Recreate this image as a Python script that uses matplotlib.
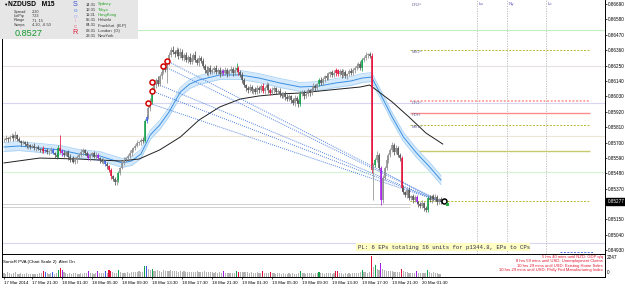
import numpy as np
import matplotlib
matplotlib.use("Agg")
import matplotlib.pyplot as plt
from matplotlib.patches import Rectangle

plt.rcParams['font.family'] = ['Liberation Sans', 'DejaVu Sans']

# ---- data: NZDUSD M15, prices in points above 0.85000 ----
close_pts = [
    718, 732, 725, 739, 747, 732, 754, 725, 711, 697,
    704, 689, 675, 682, 668, 675, 661, 668, 654, 647,
    654, 640, 647, 632, 640, 647, 625, 611, 596, 661,
    640, 625, 611, 632, 596, 575, 589, 561, 575, 596,
    611, 632, 647, 625, 604, 589, 611, 625, 596, 611,
    589, 575, 561, 568, 546, 532, 503, 461, 439, 418,
    432, 482, 518, 554, 575, 589, 604, 625, 647, 661,
    675, 697, 704, 718, 711, 854, 882, 947, 990, 1076,
    1111, 1147, 1118, 1176, 1204, 1233, 1219, 1269, 1326, 1362,
    1347, 1333, 1362, 1319, 1347, 1304, 1326, 1290, 1311, 1276,
    1304, 1326, 1290, 1269, 1304, 1283, 1247, 1219, 1197, 1233,
    1204, 1219, 1233, 1204, 1219, 1190, 1211, 1197, 1219, 1190,
    1211, 1226, 1197, 1219, 1233, 1204, 1183, 1147, 1111, 1090,
    1076, 1097, 1068, 1083, 1061, 1090, 1076, 1104, 1068, 1090,
    1111, 1076, 1054, 1076, 1090, 1061, 1068, 1047, 1033, 1054,
    1025, 1011, 1033, 1004, 983, 1018, 997, 975, 1047, 1061,
    1033, 1047, 1076, 1054, 1083, 1104, 1090, 1118, 1147, 1126,
    1154, 1176, 1161, 1190, 1204, 1183, 1197, 1219, 1190, 1211,
    1183, 1204, 1176, 1190, 1211, 1197, 1219, 1233, 1247, 1261,
    1233, 1290, 1304, 1326, 1333, 1319, 503, 539, 575, 611,
    518, 289, 446, 518, 575, 611, 647, 682, 632, 661,
    611, 589, 375, 346, 325, 361, 303, 318, 289, 311,
    275, 261, 246, 268, 232, 218, 303, 289, 318, 296,
    311, 275, 296, 277,
]
wick_hi = [
    14, 21, 7, 14, 21, 14, 28, 7, 14, 7,
    14, 7, 21, 14, 7, 14, 21, 7, 14, 7,
    14, 21, 7, 14, 7, 21, 14, 7, 14, 21,
    93, 14, 21, 7, 14, 21, 7, 14, 21, 14,
    14, 21, 14, 7, 14, 21, 14, 7, 14, 21,
    14, 7, 14, 21, 7, 14, 7, 14, 7, 14,
    14, 14, 7, 14, 21, 7, 14, 21, 14, 7,
    14, 21, 7, 14, 21, 14, 14, 21, 28, 21,
    21, 14, 28, 14, 21, 14, 21, 14, 21, 21,
    28, 14, 21, 14, 28, 21, 14, 21, 14, 28,
    21, 14, 28, 14, 21, 14, 21, 14, 28, 14,
    21, 14, 14, 21, 14, 21, 14, 14, 21, 14,
    14, 21, 14, 21, 35, 14, 14, 21, 14, 7,
    14, 21, 14, 7, 14, 21, 14, 14, 21, 14,
    21, 14, 14, 21, 14, 7, 14, 21, 14, 7,
    14, 21, 14, 7, 14, 21, 14, 14, 21, 14,
    14, 21, 14, 7, 14, 21, 14, 7, 14, 21,
    14, 7, 21, 14, 7, 14, 21, 14, 7, 14,
    14, 21, 14, 7, 14, 21, 14, 14, 21, 14,
    21, 14, 14, 21, 7, 14, 21, 14, 14, 28,
    14, 14, 21, 14, 21, 14, 14, 22, 14, 21,
    14, 14, 14, 21, 7, 14, 21, 7, 14, 14,
    14, 7, 14, 21, 7, 14, 14, 21, 7, 14,
    21, 14, 7, 14,
]
wick_lo = [
    14, 7, 21, 14, 7, 21, 14, 14, 7, 21,
    7, 14, 14, 21, 14, 7, 14, 21, 7, 14,
    21, 14, 7, 14, 21, 14, 7, 21, 14, 7,
    14, 21, 14, 7, 21, 14, 14, 7, 14, 21,
    7, 14, 21, 14, 7, 14, 21, 14, 7, 14,
    14, 21, 7, 14, 14, 21, 14, 21, 14, 21,
    21, 14, 14, 7, 14, 14, 7, 14, 21, 14,
    14, 7, 14, 21, 14, 7, 14, 14, 21, 14,
    14, 21, 14, 14, 21, 14, 14, 93, 14, 14,
    14, 21, 14, 21, 14, 14, 21, 14, 21, 14,
    14, 21, 14, 14, 21, 14, 14, 21, 14, 21,
    14, 14, 21, 14, 14, 21, 14, 14, 14, 21,
    14, 14, 21, 14, 14, 21, 14, 21, 14, 21,
    21, 14, 14, 21, 14, 14, 21, 14, 14, 21,
    14, 21, 14, 14, 21, 14, 14, 21, 14, 14,
    21, 14, 14, 21, 14, 21, 14, 21, 14, 14,
    21, 14, 14, 21, 14, 14, 21, 14, 14, 14,
    14, 21, 14, 14, 21, 14, 14, 21, 14, 14,
    21, 14, 14, 21, 14, 14, 14, 21, 14, 14,
    14, 21, 14, 14, 21, 14, 21, 214, 14, 14,
    14, 36, 21, 14, 14, 21, 14, 14, 21, 14,
    14, 21, 21, 14, 14, 21, 14, 14, 21, 14,
    14, 21, 14, 14, 21, 15, 14, 14, 21, 14,
    14, 21, 14, 14,
]
volume = [
    420, 380, 510, 460, 350, 400, 520, 380, 330, 410,
    360, 300, 420, 380, 310, 350, 290, 330, 380, 420,
    450, 620, 580, 400, 360, 430, 560, 380, 420, 720,
    980, 760, 520, 450, 380, 420, 360, 480, 400, 350,
    380, 420, 350, 460, 390, 640, 480, 420, 380, 450,
    610, 440, 390, 420, 660, 480, 720, 650, 520, 460,
    480, 780, 520, 460, 420, 480, 520, 460, 500, 560,
    520, 580, 620, 560, 600, 1250, 1180, 880, 760, 820,
    680, 620, 740, 650, 580, 720, 640, 700, 680, 750,
    660, 620, 700, 580, 640, 560, 620, 540, 600, 520,
    560, 500, 580, 620, 540, 500, 560, 640, 580, 520,
    500, 540, 480, 520, 460, 500, 480, 620, 480, 440,
    460, 420, 480, 440, 640, 600, 520, 560, 600, 540,
    500, 460, 520, 480, 440, 500, 460, 420, 620, 480,
    440, 400, 600, 460, 420, 380, 440, 400, 360, 420,
    380, 340, 400, 360, 420, 380, 340, 420, 660, 460,
    400, 380, 420, 460, 400, 380, 440, 420, 560, 440,
    400, 380, 420, 440, 400, 380, 460, 640, 700, 460,
    420, 380, 400, 360, 420, 380, 400, 440, 420, 460,
    500, 720, 560, 520, 480, 560, 2247, 1080, 1260, 820,
    760, 1560, 920, 760, 700, 640, 680, 620, 560, 600,
    540, 500, 880, 620, 560, 500, 460, 420, 440, 400,
    640, 460, 420, 440, 400, 480, 720, 560, 480, 520,
    460, 420, 380, 340,
]
# PVA colour of notable bars (r climax bear, g climax bull, b/m rising volume)
pva_marks = {21: 'r', 22: 'b', 26: 'b', 29: 'g', 30: 'r', 31: 'm', 45: 'm', 50: 'm',
             54: 'b', 56: 'r', 57: 'r', 61: 'g', 75: 'g', 76: 'b', 79: 'g', 117: 'm',
             124: 'g', 125: 'r', 138: 'r', 142: 'r', 158: 'g', 168: 'g', 177: 'r',
             178: 'r', 191: 'g', 196: 'r', 198: 'g', 201: 'm', 212: 'r', 220: 'm', 226: 'g'}

# moving averages, read at sample bars (points)
fast_ma_bars = [0, 8, 19, 30, 40, 51, 58, 63, 68, 73, 78, 83, 88, 94, 99, 104, 115,
                126, 136, 147, 158, 168, 177, 185, 191, 196, 201, 207, 213, 220, 227, 233]
fast_ma_pts = [668, 675, 661, 647, 618, 604, 575, 554, 568, 618, 754, 825, 918, 1061,
               1118, 1147, 1183, 1183, 1161, 1126, 1097, 1104, 1126, 1140, 1161, 1168,
               1040, 882, 740, 625, 525, 432]
slow_ma_bars = [0, 19, 40, 51, 62, 72, 83, 94, 104, 115, 126, 136, 147, 158, 174, 190,
                195, 200, 207, 216, 225, 234]
slow_ma_pts = [554, 589, 582, 575, 568, 582, 647, 739, 861, 954, 1011, 1033, 1047, 1054,
               1076, 1097, 1111, 1061, 990, 882, 768, 689]

# entries (bar, price) of the open positions
entry_bars = [77, 79, 79, 85, 87]
entry_prices = [0.85983, 0.86068, 0.86133, 0.86247, 0.86283]

# horizontal levels
bg_level_prices = [0.86505, 0.86247, 0.85986, 0.85747, 0.85489, 0.84982]
bg_level_colors = ['#bff0bf', '#e8e2e2', '#d6d6f2', '#eee6d8', '#d6f4d6', '#d6d6f2']
pivot_labels = ['MR2^', 'DR1^', 'PDH', 'MR1^', '-', '']
pivot_prices = [0.86362, 0.85997, 0.85911, 0.85825, 0.85639, 0.85282]
pivot_styles = [('#b8b830', (0, (2, 1.5)), 0.7), ('#ff9a9a', (0, (1, 1)), 1.3),
                ('#ff8c8c', '-', 1.0), ('#b8b830', (0, (2, 1.5)), 0.7),
                ('#c8c870', '-', 1.0), ('#b8b830', (0, (2, 1.5)), 0.7)]
bid_lines = [0.85260, 0.85239]
current_price = 0.85277

session_bars = [252, 268, 289]
session_labels = ['Lo', 'Ny', 'Lc']

time_bars = [0, 15, 31, 47, 63, 79, 95, 111, 127, 143, 159, 175, 191, 207, 223]
time_labels = ['17 Mar 2014', '17 Mar 21:30', '18 Mar 01:30', '18 Mar 05:30', '18 Mar 09:30',
               '18 Mar 13:30', '18 Mar 17:30', '18 Mar 21:30', '19 Mar 01:30', '19 Mar 05:30',
               '19 Mar 09:30', '19 Mar 13:30', '19 Mar 17:30', '19 Mar 21:30', '20 Mar 01:30']
# price scale labels (the 0.85260 one is hidden behind the current-price box)
price_ticks = [0.8669, 0.8658, 0.8647, 0.8636, 0.8625, 0.8614, 0.8603, 0.8592, 0.8581,
               0.8570, 0.8559, 0.8548, 0.8537, 0.8515, 0.8504, 0.8493]

events = ['5 hrs 40 mins until NZD: GDP q/q',
          '8 hrs 59 mins until USD: Unemployment Claims',
          '10 hrs 29 mins until USD: Existing Home Sales',
          '10 hrs 29 mins until USD: Philly Fed Manufacturing Index']
sessions = [('14:31', 'Sydney'), ('12:31', 'Tokyo'), ('11:31', 'HongKong'), ('05:31', 'Helsinki'),
            ('04:31', 'Frankfurt  (B.P)'), ('03:31', 'London  (G)'), ('23:31', 'NewYork')]
info_rows = [('Spread', '2.20'), ('LotPip', '7.23'), ('Range', '71, 15'), ('Swaps', '4.20, -6.50')]

# ---- figure ----
W, H = 625, 288
fig = plt.figure(figsize=(W / 100, H / 100), dpi=100)


def fx(xp):
    return xp / W


def fy(yp):
    return 1 - yp / H


XL = (-1.07, 320.5)
ax = fig.add_axes([fx(2), fy(254), fx(605) - fx(2), fy(0) - fy(254)])
axv = fig.add_axes([fx(2), fy(277), fx(605) - fx(2), fy(255) - fy(277)])

x = np.arange(len(close_pts))
c = 0.85 + np.array(close_pts) / 1e5
o = np.r_[c[0], c[:-1]]
hi = np.maximum(o, c) + np.array(wick_hi) / 1e5
lo = np.minimum(o, c) - np.array(wick_lo) / 1e5
palette = {'r': '#e2103a', 'g': '#14a04a', 'b': '#3d5fe6', 'm': '#a41ee6'}
cols = [palette[pva_marks[i]] if i in pva_marks else ('#8e8e8e' if c[i] >= o[i] else '#555555')
        for i in x]
vcols = [palette[pva_marks[i]] if i in pva_marks else '#b4b4b4' for i in x]

# background levels
for p, col in zip(bg_level_prices, bg_level_colors):
    ax.axhline(p, color=col, lw=0.8, zorder=0)
for p in bid_lines:
    ax.hlines(p, XL[0], 216.5, color='#d0d0d0', lw=0.7, zorder=0)
for lab, p, (col, ls, lw) in zip(pivot_labels, pivot_prices, pivot_styles):
    x0 = 221.5 if lab == '-' else 216.5
    ax.hlines(p, x0, 312.5, color=col, linestyle=ls, lw=lw, zorder=1)
    if lab and lab != '-':
        ax.text(217.5, p - 0.00002, lab, fontsize=3.0, color='#6a6a9a', va='top', ha='left')
ax.text(217.5, 0.86700, 'DR2^', fontsize=3.0, color='#6a6a9a', va='top', ha='left')
ax.hlines(0.84917, 296.5, 314.5, color='#4f6fe0', linestyle=(0, (2, 1.5)), lw=0.7)

for b, lab in zip(session_bars, session_labels):
    ax.axvline(b, color='#b8b8b8', linestyle=(0, (1.5, 1.5)), lw=0.6, zorder=0)
    ax.text(b + 1, 0.86690, lab, fontsize=3.2, color='#6655bb', va='center', ha='left')

# moving averages
fb = np.array(fast_ma_bars)
fp = 0.85 + np.array(fast_ma_pts) / 1e5
ax.fill_between(fb, fp - 0.00032, fp + 0.00032, color='#d4e9fb', lw=0, zorder=1)
ax.plot(fb, fp - 0.00032, color='#a9d2f5', lw=0.6, zorder=1)
ax.plot(fb, fp + 0.00032, color='#a9d2f5', lw=0.6, zorder=1)
ax.plot(fb, fp, color='#3a90e4', lw=0.7, zorder=2)
ax.plot(slow_ma_bars, 0.85 + np.array(slow_ma_pts) / 1e5, color='#202020', lw=0.7, zorder=2)

# trade lines
for b, p in zip(entry_bars, entry_prices):
    ax.plot([b, x[-1]], [p, current_price], color='#4d7fe0', linestyle=(0, (1, 1.2)),
            lw=0.7, zorder=2)

# candles
ax.vlines(x, lo, hi, colors=cols, lw=0.55, zorder=3)
body_lo = np.minimum(o, c)
body_hi = np.maximum(o, c) + 0.000015
ax.vlines(x, body_lo, body_hi, colors=cols, lw=1.15, zorder=3)

ax.plot(entry_bars, entry_prices, 'o', ms=3.6, mfc='white', mec='#d40000', mew=1.1, zorder=5)
ax.plot([234.7], [0.85282], 'o', ms=3.6, mfc='white', mec='black', mew=1.1, zorder=5)
ax.plot([236.3], [0.85262], 's', ms=1.3, color='#20b040', zorder=5)

ax.set_xlim(*XL)
ax.set_ylim(0.84903, 0.86719)
ax.yaxis.tick_right()
ax.set_yticks(price_ticks)
ax.set_yticklabels(['%.5f' % p for p in price_ticks])
ax.tick_params(axis='y', labelsize=3.3, length=1.5, width=0.5, pad=0.8)
ax.set_xticks([])
ax.spines['top'].set_visible(False)
for s in ['left', 'right', 'bottom']:
    ax.spines[s].set_linewidth(0.7)
ax.text(1.004, current_price, '%.5f' % current_price, transform=ax.get_yaxis_transform(),
        fontsize=3.3, color='white', va='center', ha='left',
        bbox=dict(boxstyle='square,pad=0.2', fc='black', ec='black'))

# volume panel
axv.bar(x, volume, width=0.6, color=vcols, lw=0)
axv.set_xlim(*XL)
axv.set_ylim(0, 2400)
axv.set_yticks([])
axv.set_xticks(time_bars)
axv.set_xticklabels(time_labels, ha='left')
axv.tick_params(axis='x', labelsize=3.2, length=1.5, width=0.5, pad=1.5)
axv.spines['top'].set_visible(False)
for s in ['left', 'right', 'bottom']:
    axv.spines[s].set_linewidth(0.7)
fig.text(fx(3), fy(262), 'SonicR PVA (Chart Scale 2)  Alert On', fontsize=3.2,
         va='center', ha='left')
fig.text(fx(607), fy(257.5), '2247', fontsize=3.4, va='center', ha='left')
fig.text(fx(607), fy(273), '0', fontsize=3.4, va='center', ha='left')
for k, ev in enumerate(events):
    fig.text(fx(603), fy(257 + 4.4 * k), ev, fontsize=3.0, color='#e5102a',
             va='center', ha='right')

# PL box
fig.add_artist(Rectangle((fx(356), fy(251)), fx(530) - fx(356), fy(243) - fy(251),
                         transform=fig.transFigure, fc='#ffffc4', ec='none', zorder=4))
fig.text(fx(358), fy(247), 'PL: 6 EPs totaling 16 units for p1344.8, EPs to CPs',
         fontsize=4.1, family=['Liberation Mono', 'DejaVu Sans Mono'], color='#2a2a4a',
         va='center', ha='left', zorder=5)

# info panel
fig.add_artist(Rectangle((0, fy(39)), fx(138), fy(0) - fy(39), transform=fig.transFigure,
                         fc='#e6e6e6', ec='none', zorder=4))
fig.text(fx(3), fy(5), '\u25bc', fontsize=3.2, va='center', ha='left', zorder=5)
fig.text(fx(8), fy(5), 'NZDUSD   M15', fontsize=4.8, weight='bold', va='center',
         ha='left', zorder=5)
for k, (lab, val) in enumerate(info_rows):
    yy = 11.7 + 4.4 * k
    fig.text(fx(14), fy(yy), lab, fontsize=2.8, color='#333333', va='center', zorder=5)
    fig.text(fx(32), fy(yy), val, fontsize=2.8, color='#333333', va='center', zorder=5)
fig.text(fx(15), fy(34), '0.8527', fontsize=6.6, color='#169a2e', va='center', zorder=5)
sonic = [('S', '#3350d0', 4.5, 5.2), ('o', '#5c86f0', 10.5, 4.6), ('n', '#b0b0f4', 16, 4.6),
         ('i', '#f4a8c8', 21, 4.6), ('c', '#f06c90', 27, 4.6), ('R', '#e01c3c', 33, 5.2)]
for ch, col, yy, fs in sonic:
    fig.text(fx(75), fy(yy), ch, fontsize=fs, color=col, va='center', ha='center', zorder=5)
for k, (t, name) in enumerate(sessions):
    col = '#22a022' if k < 3 else '#333333'
    yy = 4.5 + 5.25 * k
    fig.text(fx(86), fy(yy), t, fontsize=3.0, color='#333333', va='center', zorder=5)
    fig.text(fx(98), fy(yy), name, fontsize=3.0, color=col, va='center', zorder=5)

fig.savefig('out.png', dpi=100)
